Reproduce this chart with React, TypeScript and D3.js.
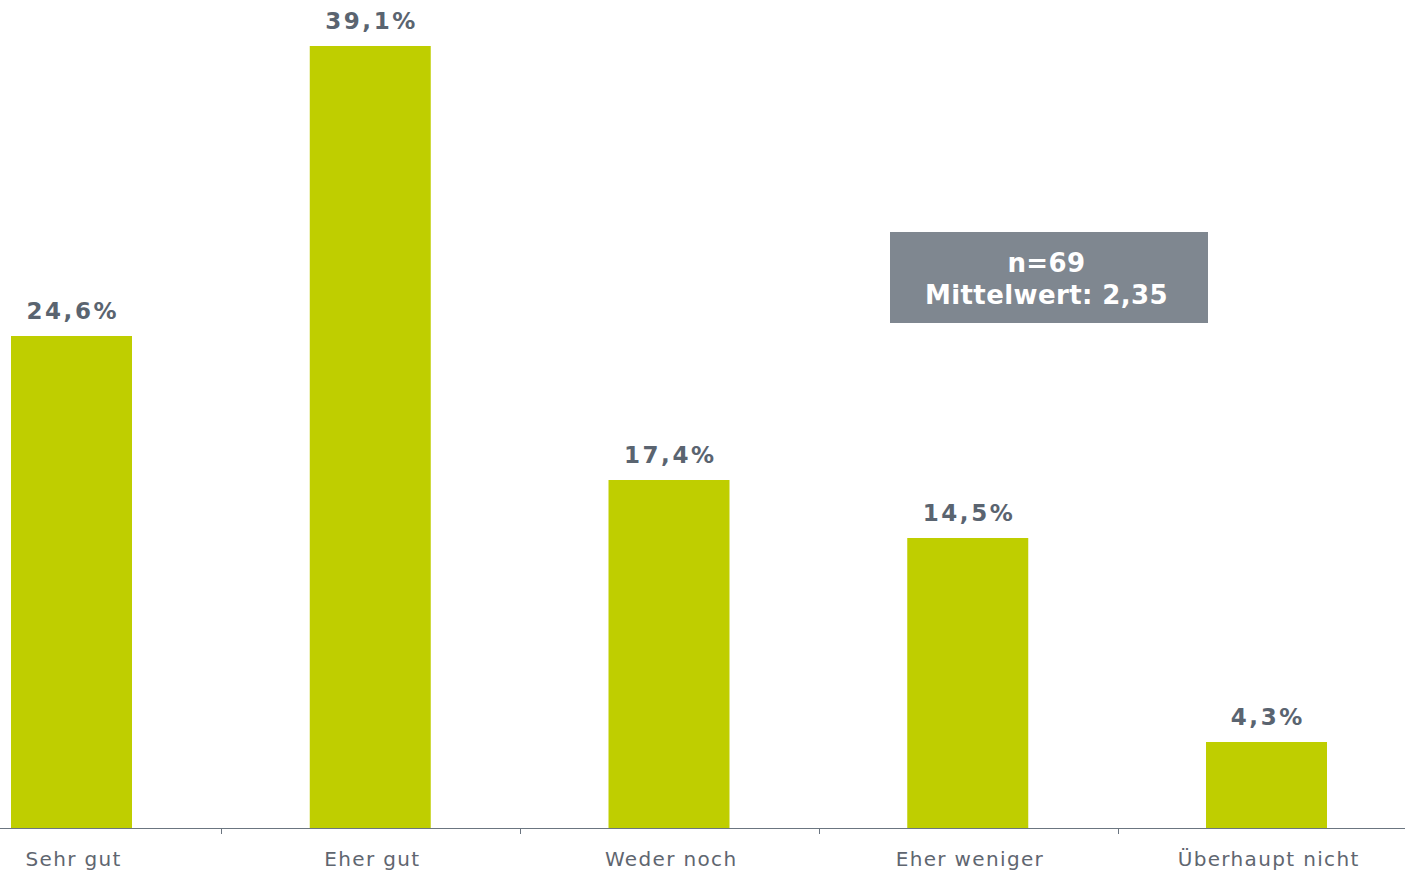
import React from "react";
import * as d3 from "d3";

const categories = ["Sehr gut", "Eher gut", "Weder noch", "Eher weniger", "Überhaupt nicht"];
const values = [24.6, 39.1, 17.4, 14.5, 4.3];
const valueLabels = ["24,6%", "39,1%", "17,4%", "14,5%", "4,3%"];
const infoLines = ["n=69", "Mittelwert: 2,35"];

const W = 1405;
const H = 874;
const baseY = 828;

export default function App() {
  const bandStart = -77.875;
  const bandEnd = 1415.875;
  const x = d3.scaleBand<string>().domain(categories).range([bandStart, bandEnd]).paddingInner(0.595).paddingOuter(0.2975);
  const y = d3.scaleLinear().domain([0, 39.1]).range([baseY, 46]);
  const step = x.step();
  const ticks = categories.slice(1).map((_, i) => bandStart + step * (i + 1));
  const font = "'DejaVu Sans', Verdana, sans-serif";
  const vls = 2.6;
  const cls = 1.35;
  return (
    <svg width={W} height={H} style={{ position: "absolute", left: 0, top: 0 }}>
      <rect width={W} height={H} fill="#fff" />
      {categories.map((c, i) => (
        <rect key={c} x={x(c)} y={y(values[i])} width={x.bandwidth()} height={baseY - y(values[i])} fill="#bfce00" />
      ))}
      <line x1={0} x2={W} y1={baseY + 0.5} y2={baseY + 0.5} stroke="#6b7580" strokeWidth={1.2} />
      {ticks.map((t, i) => (
        <line key={i} x1={Math.ceil(t) + 0.5} x2={Math.ceil(t) + 0.5} y1={baseY} y2={baseY + 6} stroke="#6b7580" strokeWidth={1} />
      ))}
      {categories.map((c, i) => (
        <text key={"v" + c} x={x(c)! + x.bandwidth() / 2 + vls / 2} y={y(values[i]) - 17} textAnchor="middle"
          fontFamily={font} fontWeight="bold" fontSize={23} fill="#5a6470" letterSpacing={vls}>
          {valueLabels[i]}
        </text>
      ))}
      {categories.map((c) => (
        <text key={"c" + c} x={x(c)! + x.bandwidth() / 2 + cls / 2 + 1.5} y={866} textAnchor="middle"
          fontFamily={font} fontSize={20} fill="#5f6670" letterSpacing={cls}>
          {c}
        </text>
      ))}
      <rect x={890} y={232} width={318} height={91} fill="#7f8790" />
      {infoLines.map((t, i) => (
        <text key={t} x={1046.5} y={272 + i * 32} textAnchor="middle" fontFamily={font} fontWeight="bold" fontSize={26} fill="#fff" letterSpacing={0.4}>
          {t}
        </text>
      ))}
    </svg>
  );
}
